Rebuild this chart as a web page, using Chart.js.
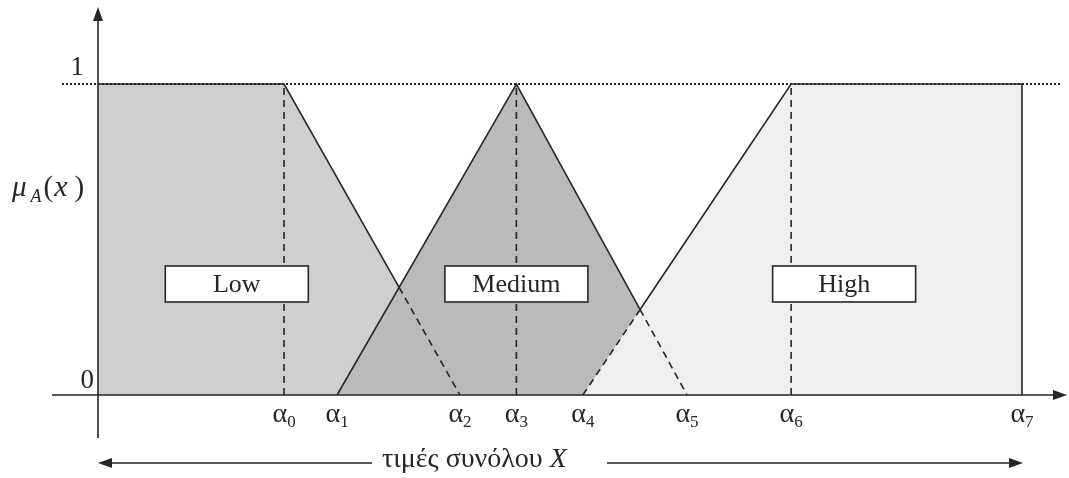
<!DOCTYPE html>
<html>
<head>
<meta charset="utf-8">
<script src="https://cdn.jsdelivr.net/npm/chart.js@4.4.0/dist/chart.umd.min.js"></script>
<style>
    html, body { margin: 0; padding: 0; background: #fff; }
    #wrap { width: 1069px; height: 478px; position: relative; }
</style>
</head>
<body>
<div id="wrap"><canvas id="fuzzyChart"></canvas></div>
<script>
// --- breakpoints of the universe X (α0 … α7) ---
const alphaPoints = [19.3, 24.8, 37.55, 43.4, 50.3, 61.1, 71.9, 95.85];
const alphaSubs = ['0', '1', '2', '3', '4', '5', '6', '7'];

// --- membership functions (x, μ) ---
const setNames = ['Low', 'Medium', 'High'];
const lowX = [0, alphaPoints[0], alphaPoints[2]];
const lowMu = [1, 1, 0];
const mediumX = [alphaPoints[1], alphaPoints[3], alphaPoints[5]];
const mediumMu = [0, 1, 0];
const highX = [alphaPoints[4], alphaPoints[6], alphaPoints[7], alphaPoints[7]];
const highMu = [0, 1, 1, 0];

// y-axis tick labels
const yTicks = [0, 1];

const SERIF = '"Liberation Serif", "Times New Roman", serif';
const INK = '#262626';

const toPoints = (xs, ys) => xs.map((x, i) => ({ x: x, y: ys[i] }));

// intersection of segment p1-p2 with segment p3-p4
const intersect = (p1, p2, p3, p4) => {
    const d = (p1.x - p2.x) * (p3.y - p4.y) - (p1.y - p2.y) * (p3.x - p4.x);
    const t = ((p1.x - p3.x) * (p3.y - p4.y) - (p1.y - p3.y) * (p3.x - p4.x)) / d;
    return { x: p1.x + t * (p2.x - p1.x), y: p1.y + t * (p2.y - p1.y) };
};

const lowPts = toPoints(lowX, lowMu);
const medPts = toPoints(mediumX, mediumMu);
const highPts = toPoints(highX, highMu);

const lowMed = intersect(lowPts[1], lowPts[2], medPts[0], medPts[1]);
const medHigh = intersect(medPts[1], medPts[2], highPts[0], highPts[1]);

const fillSet = (data, color, order) => ({
    data: data,
    fill: 'origin',
    backgroundColor: color,
    borderColor: 'transparent',
    borderWidth: 1,
    pointRadius: 0,
    tension: 0,
    order: order
});

const edge = (data, dashed) => ({
    data: data,
    fill: false,
    borderColor: INK,
    borderWidth: 1.6,
    borderDash: dashed ? [7, 5] : [],
    pointRadius: 0,
    tension: 0,
    order: 0
});

const datasets = [
    // outlines: solid where the set is on top, dashed where hidden
    edge([lowPts[0], lowPts[1], lowMed], false),
    edge([lowMed, lowPts[2]], true),
    edge([medPts[0], medPts[1], medHigh], false),
    edge([medHigh, medPts[2]], true),
    edge([highPts[0], medHigh], true),
    edge([medHigh, highPts[1], highPts[2], highPts[3]], false),
    edge([{ x: alphaPoints[0], y: 0 }, { x: alphaPoints[0], y: 1 }], true),
    edge([{ x: alphaPoints[3], y: 0 }, { x: alphaPoints[3], y: 1 }], true),
    edge([{ x: alphaPoints[6], y: 0 }, { x: alphaPoints[6], y: 1 }], true),
    // filled areas
    fillSet(highPts, '#efefef', 1),
    fillSet(medPts, '#bababa', 2),
    fillSet(lowPts, '#cfcfcf', 3)
];

const arrowHead = (ctx, x, y, dir) => {
    // dir: 'up' | 'right' | 'left'
    const len = 14, half = 5;
    ctx.beginPath();
    if (dir === 'up') {
        ctx.moveTo(x, y);
        ctx.lineTo(x - half, y + len);
        ctx.lineTo(x + half, y + len);
    } else if (dir === 'right') {
        ctx.moveTo(x, y);
        ctx.lineTo(x - len, y - half);
        ctx.lineTo(x - len, y + half);
    } else {
        ctx.moveTo(x, y);
        ctx.lineTo(x + len, y - half);
        ctx.lineTo(x + len, y + half);
    }
    ctx.closePath();
    ctx.fill();
};

// axes, guide line, labels and name boxes
const decorations = {
    id: 'decorations',
    afterDatasetsDraw(chart) {
        const ctx = chart.ctx;
        const xs = chart.scales.x;
        const ys = chart.scales.y;
        const x0 = xs.getPixelForValue(0);
        const y0 = ys.getPixelForValue(0);
        const y1 = ys.getPixelForValue(1);

        ctx.save();
        ctx.strokeStyle = INK;
        ctx.fillStyle = INK;

        // dotted line at μ = 1
        ctx.lineWidth = 2;
        ctx.setLineDash([2, 2]);
        ctx.beginPath();
        ctx.moveTo(62, y1);
        ctx.lineTo(1062, y1);
        ctx.stroke();
        ctx.setLineDash([]);

        // axes
        ctx.lineWidth = 1.6;
        ctx.beginPath();
        ctx.moveTo(x0, 438);
        ctx.lineTo(x0, 14);
        ctx.moveTo(52, y0);
        ctx.lineTo(1060, y0);
        ctx.stroke();
        arrowHead(ctx, x0, 7, 'up');
        arrowHead(ctx, 1067, y0, 'right');

        // y tick labels
        ctx.font = '27px ' + SERIF;
        ctx.textAlign = 'right';
        ctx.textBaseline = 'alphabetic';
        yTicks.forEach(v => {
            const py = ys.getPixelForValue(v);
            ctx.fillText(String(v), v === 1 ? 84 : 94, v === 1 ? py - 9 : py - 7);
        });

        // μ_A(x)
        ctx.textAlign = 'left';
        let cx = 12;
        ctx.font = 'italic 29px ' + SERIF;
        ctx.fillText('μ', cx, 196);
        cx += ctx.measureText('μ').width + 4;
        ctx.font = 'italic 18px ' + SERIF;
        ctx.fillText('A', cx, 202);
        cx += ctx.measureText('A').width + 2;
        ctx.font = '29px ' + SERIF;
        ctx.fillText('(', cx, 196);
        cx += ctx.measureText('(').width + 1;
        ctx.font = 'italic 30px ' + SERIF;
        ctx.fillText('x', cx, 196);
        cx += ctx.measureText('x').width + 7;
        ctx.font = '29px ' + SERIF;
        ctx.fillText(')', cx, 196);

        // α tick labels
        alphaPoints.forEach((a, i) => {
            const px = xs.getPixelForValue(a);
            ctx.font = '28px ' + SERIF;
            const w1 = ctx.measureText('α').width;
            ctx.font = '17px ' + SERIF;
            const w2 = ctx.measureText(alphaSubs[i]).width;
            const start = px - (w1 + w2) / 2;
            ctx.font = '28px ' + SERIF;
            ctx.fillText('α', start, 422);
            ctx.font = '17px ' + SERIF;
            ctx.fillText(alphaSubs[i], start + w1, 427);
        });

        // double arrow with caption
        const ay = 463;
        ctx.lineWidth = 1.5;
        ctx.beginPath();
        ctx.moveTo(x0 + 10, ay);
        ctx.lineTo(372, ay);
        ctx.moveTo(607, ay);
        ctx.lineTo(1013, ay);
        ctx.stroke();
        arrowHead(ctx, x0, ay, 'left');
        arrowHead(ctx, 1023, ay, 'right');

        ctx.font = '28px ' + SERIF;
        const caption = 'τιμές συνόλου ';
        ctx.fillText(caption, 382, 467);
        const cw = ctx.measureText(caption).width;
        ctx.font = 'italic 28px ' + SERIF;
        ctx.fillText('X', 382 + cw, 467);

        // name boxes
        const boxes = [
            { name: setNames[0], x: 14.4 },
            { name: setNames[1], x: alphaPoints[3] },
            { name: setNames[2], x: 77.4 }
        ];
        const by = ys.getPixelForValue(0.357);
        boxes.forEach(b => {
            const bx = xs.getPixelForValue(b.x);
            const w = 143, h = 36;
            ctx.fillStyle = '#ffffff';
            ctx.fillRect(bx - w / 2, by - h / 2, w, h);
            ctx.strokeStyle = INK;
            ctx.lineWidth = 1.6;
            ctx.strokeRect(bx - w / 2, by - h / 2, w, h);
            ctx.fillStyle = INK;
            ctx.font = '26px ' + SERIF;
            ctx.textAlign = 'center';
            ctx.textBaseline = 'middle';
            ctx.fillText(b.name, bx, by + 1);
        });

        ctx.restore();
    }
};

new Chart(document.getElementById('fuzzyChart'), {
    type: 'line',
    data: { datasets: datasets },
    options: {
        responsive: true,
        maintainAspectRatio: false,
        animation: false,
        layout: { padding: { left: 98, right: 7, top: 10, bottom: 83 } },
        plugins: {
            legend: { display: false },
            tooltip: { enabled: false }
        },
        scales: {
            x: { type: 'linear', min: 0, max: 100, display: false },
            y: { type: 'linear', min: 0, max: 1.238, display: false }
        }
    },
    plugins: [decorations]
});
</script>
</body>
</html>
